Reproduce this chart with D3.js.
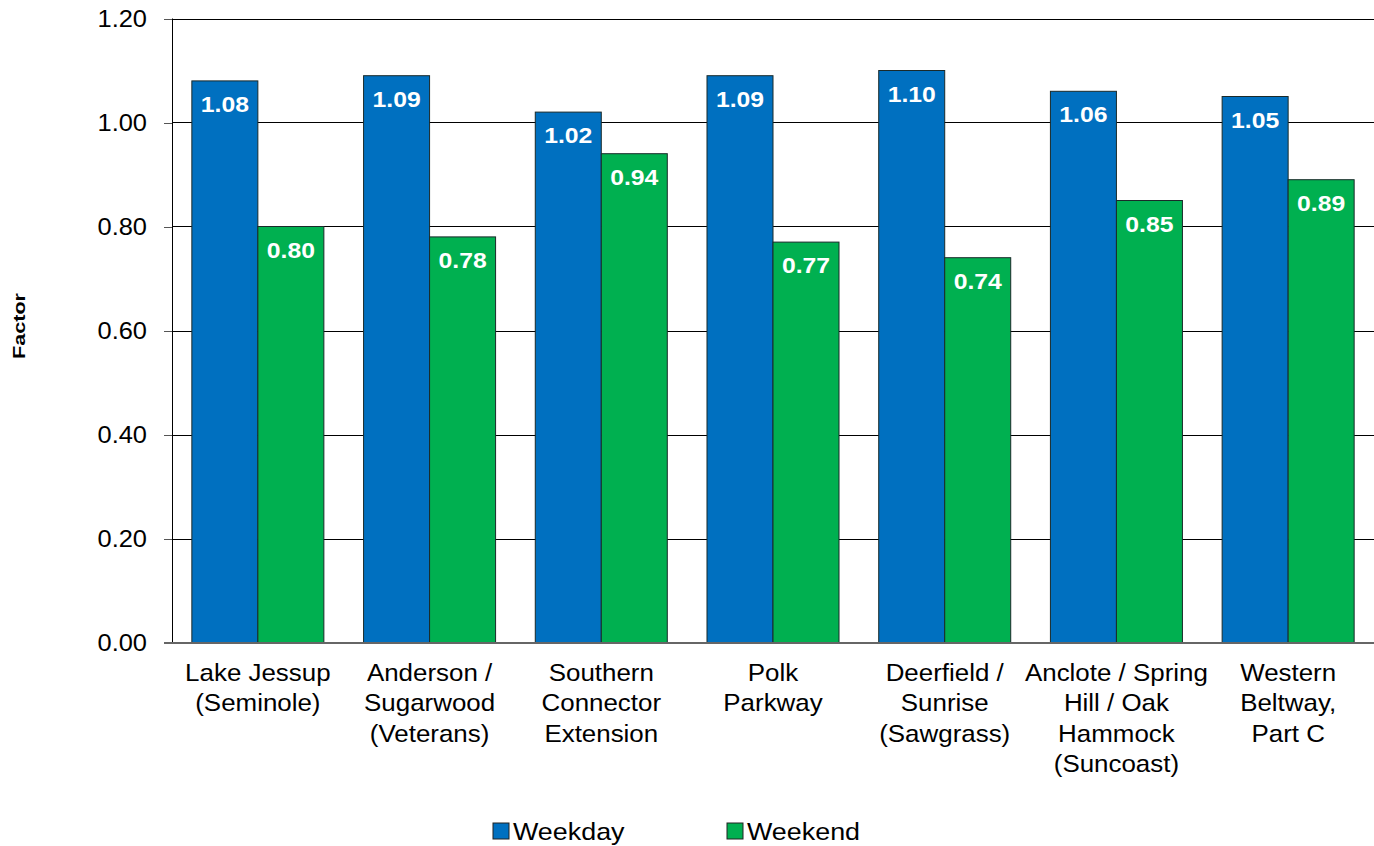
<!DOCTYPE html>
<html><head><meta charset="utf-8">
<script src="https://cdn.jsdelivr.net/npm/d3@7"></script>
<style>body{margin:0;background:#fff;}svg{display:block;font-family:"Liberation Sans",Arial,sans-serif;}</style>
</head><body>
<svg id="chart" width="1374" height="846"></svg>
<script>
const categories = [
  ["Lake Jessup","(Seminole)"],
  ["Anderson /","Sugarwood","(Veterans)"],
  ["Southern","Connector","Extension"],
  ["Polk","Parkway"],
  ["Deerfield /","Sunrise","(Sawgrass)"],
  ["Anclote / Spring","Hill / Oak","Hammock","(Suncoast)"],
  ["Western","Beltway,","Part C"]
];
const seriesNames = ["Weekday","Weekend"];
const weekday = [1.08,1.09,1.02,1.09,1.10,1.06,1.05];
const weekend = [0.80,0.78,0.94,0.77,0.74,0.85,0.89];
const yTicks = [0,0.2,0.4,0.6,0.8,1.0,1.2];
const colors = ["#0070C0","#00B050"];

const svg = d3.select("#chart");
const L = 172, R = 1374, T = 18.5, B = 642.5;
const catKeys = categories.map(c => c.join(" "));
const x0 = d3.scaleBand().domain(catKeys).range([L, R]).padding(0);
const step = x0.bandwidth();
const gap = step * 0.2312;
const x1 = d3.scaleBand().domain(seriesNames).range([gap/2, step - gap/2]).padding(0);
const y = d3.scaleLinear().domain([0, 1.2]).range([B, T]);

// gridlines
svg.append("g").selectAll("line").data(yTicks.filter(d => d > 0)).join("line")
  .attr("x1", L).attr("x2", R).attr("y1", d => Math.round(y(d))+0.5).attr("y2", d => Math.round(y(d))+0.5)
  .attr("stroke", "#000").attr("stroke-width", 1);

// y axis
const yAxis = d3.axisLeft(y).tickValues(yTicks).tickFormat(d3.format(".2f")).tickSize(8).tickPadding(17);
const ga = svg.append("g").attr("transform", `translate(${L},0.5)`).call(yAxis);
ga.select(".domain").remove();
ga.selectAll(".tick line").attr("stroke", "#555");
ga.selectAll(".tick text").attr("font-size", 24).attr("fill", "#000")
  .attr("font-family", '"Liberation Sans",Arial,sans-serif')
  .attr("x", 0).attr("transform", "translate(-25,0) scale(1.06,1)");
svg.append("line").attr("x1", L+0.5).attr("x2", L+0.5).attr("y1", T).attr("y2", B).attr("stroke", "#000");

// bars
const data = catKeys.map((k, i) => ({k, vals: [weekday[i], weekend[i]]}));
const groups = svg.append("g").selectAll("g").data(data).join("g")
  .attr("transform", d => `translate(${x0(d.k)},0)`);
groups.selectAll("rect").data(d => d.vals.map((v, j) => ({s: seriesNames[j], v, j}))).join("rect")
  .attr("x", d => x1(d.s)).attr("width", x1.bandwidth())
  .attr("y", d => y(d.v)).attr("height", d => B - y(d.v))
  .attr("fill", d => colors[d.j]).attr("stroke", "#1a2a2a").attr("stroke-width", 1);
groups.selectAll("text").data(d => d.vals.map((v, j) => ({s: seriesNames[j], v, j}))).join("text")
  .attr("transform", d => `translate(${x1(d.s) + x1.bandwidth()/2},${y(d.v) + 31}) scale(1.1,1)`)
  .attr("text-anchor", "middle").attr("fill", "#fff").attr("font-weight", "bold").attr("font-size", 22.5)
  .text(d => d.v.toFixed(2));

// bottom axis line
svg.append("line").attr("x1", L - 8).attr("x2", R).attr("y1", B + 0.5).attr("y2", B + 0.5)
  .attr("stroke", "#666").attr("stroke-width", 2);

// category labels
const xl = svg.append("g").selectAll("text").data(categories).join("text")
  .attr("transform", (d, i) => `translate(${x0(catKeys[i]) + step/2},681) scale(1.08,1)`)
  .attr("text-anchor", "middle").attr("font-size", 24).attr("fill", "#000");
xl.each(function(d) {
  const t = d3.select(this);
  d.forEach((line, li) => t.append("tspan").attr("x", 0).attr("dy", li === 0 ? 0 : 30.5).text(line));
});

// y title
svg.append("text").attr("transform", "translate(25,326) rotate(-90)").attr("text-anchor", "middle")
  .attr("font-size", 16).attr("font-weight", "bold")
  .attr("textLength", 66).attr("lengthAdjust", "spacingAndGlyphs").text("Factor");

// legend
const legX = [493, 727];
const lg = svg.append("g").selectAll("g").data(seriesNames).join("g")
  .attr("transform", (d, i) => `translate(${legX[i]},823)`);
lg.append("rect").attr("width", 16).attr("height", 16).attr("fill", (d, i) => colors[i]).attr("stroke", "#222");
lg.append("text").attr("transform", "translate(20,17) scale(1.12,1)").attr("font-size", 24).text(d => d);
</script>
</body></html>
